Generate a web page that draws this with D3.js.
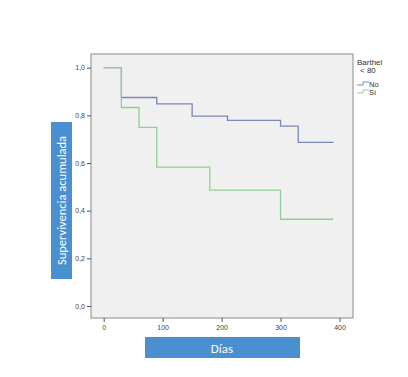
<!DOCTYPE html>
<html>
<head>
<meta charset="utf-8">
<script src="https://cdn.jsdelivr.net/npm/d3@7"></script>
<style>
  body { margin: 0; background: #fff; }
  text { font-family: "Liberation Sans", Arial, sans-serif; }
</style>
</head>
<body>
<script>
// Kaplan-Meier survival by Barthel < 80
const noDays = [0, 30, 90, 150, 210, 300, 330, 390]
const noSurv = [1, 0.875, 0.848, 0.797, 0.779, 0.755, 0.687, 0.687]
const siDays = [0, 30, 60, 90, 180, 300, 389]
const siSurv = [1, 0.833, 0.75, 0.583, 0.486, 0.364, 0.364]
const xTicks = [0, 100, 200, 300, 400]
const yTicks = [0, 0.2, 0.4, 0.6, 0.8, 1.0]
const groups = ["No", "Sí"]
const colors = ["#7c86b9", "#8fd08f"]

const width = 408, height = 377
const frame = { left: 91, top: 54, right: 353, bottom: 318 }

const svg = d3.select("body").append("svg")
    .attr("width", width)
    .attr("height", height)

const x = d3.scaleLinear().domain([0, 400]).range([103.7, 339.5])
const y = d3.scaleLinear().domain([0, 1]).range([306, 67.7])

// plot frame
svg.append("rect")
    .attr("x", frame.left).attr("y", frame.top)
    .attr("width", frame.right - frame.left)
    .attr("height", frame.bottom - frame.top)
    .attr("fill", "#f0f0f0")
    .attr("stroke", "#8a8a8a")
    .attr("stroke-width", 1)

const fmt = d => d3.format(".1f")(d).replace(".", ",")

const yAxis = svg.append("g")
    .attr("transform", `translate(${frame.left},0)`)
    .call(d3.axisLeft(y).tickValues(yTicks).tickFormat(fmt).tickSize(4).tickPadding(2))
yAxis.select(".domain").remove()

const xAxis = svg.append("g")
    .attr("transform", `translate(0,${frame.bottom})`)
    .call(d3.axisBottom(x).tickValues(xTicks).tickFormat(d3.format("d")).tickSize(4).tickPadding(3))
xAxis.select(".domain").remove()

svg.selectAll(".tick line").attr("stroke", "#555")
svg.selectAll(".tick text").attr("fill", "#444").style("font-size", "7px")

const line = d3.line()
    .x(d => x(d[0]))
    .y(d => y(d[1]))
    .curve(d3.curveStepAfter)

const series = [
  d3.zip(noDays, noSurv),
  d3.zip(siDays, siSurv)
]

svg.selectAll(".km")
    .data(series)
    .enter().append("path")
    .attr("class", "km")
    .attr("d", line)
    .attr("fill", "none")
    .attr("stroke", (d, i) => colors[i])
    .attr("stroke-width", 1.3)

// axis titles on blue boxes
svg.append("rect")
    .attr("x", 51).attr("y", 122).attr("width", 21).attr("height", 157)
    .attr("fill", "#4a8fd0")
svg.append("text")
    .attr("transform", "translate(66,200.5) rotate(-90)")
    .attr("text-anchor", "middle")
    .attr("fill", "#fff")
    .style("font-size", "12.5px")
    .style("font-family", "Calibri, 'Open Sans', sans-serif")
    .text("Supervivencia acumulada")

svg.append("rect")
    .attr("x", 145).attr("y", 337).attr("width", 155).attr("height", 21)
    .attr("fill", "#4a8fd0")
svg.append("text")
    .attr("x", 222).attr("y", 352.5)
    .attr("text-anchor", "middle")
    .attr("fill", "#fff")
    .style("font-size", "13px")
    .style("font-family", "Calibri, 'Open Sans', sans-serif")
    .text("Días")

// legend
const legend = svg.append("g").attr("transform", "translate(357,0)")
legend.append("text").attr("x", 0).attr("y", 65)
    .style("font-size", "8px").attr("fill", "#333").text("Barthel")
legend.append("text").attr("x", 3).attr("y", 73)
    .style("font-size", "8px").attr("fill", "#333").text("< 80")

const legendStep = d3.line().curve(d3.curveStepAfter)
groups.forEach((g, i) => {
  const cy = 85 + i * 8
  legend.append("path")
      .attr("d", legendStep([[0, cy], [6, cy - 3], [12, cy - 3]]))
      .attr("fill", "none")
      .attr("stroke", colors[i])
      .attr("stroke-width", 1)
  legend.append("text").attr("x", 12).attr("y", cy + 2)
      .style("font-size", "7.5px").attr("fill", "#333").text(g)
})
</script>
</body>
</html>
